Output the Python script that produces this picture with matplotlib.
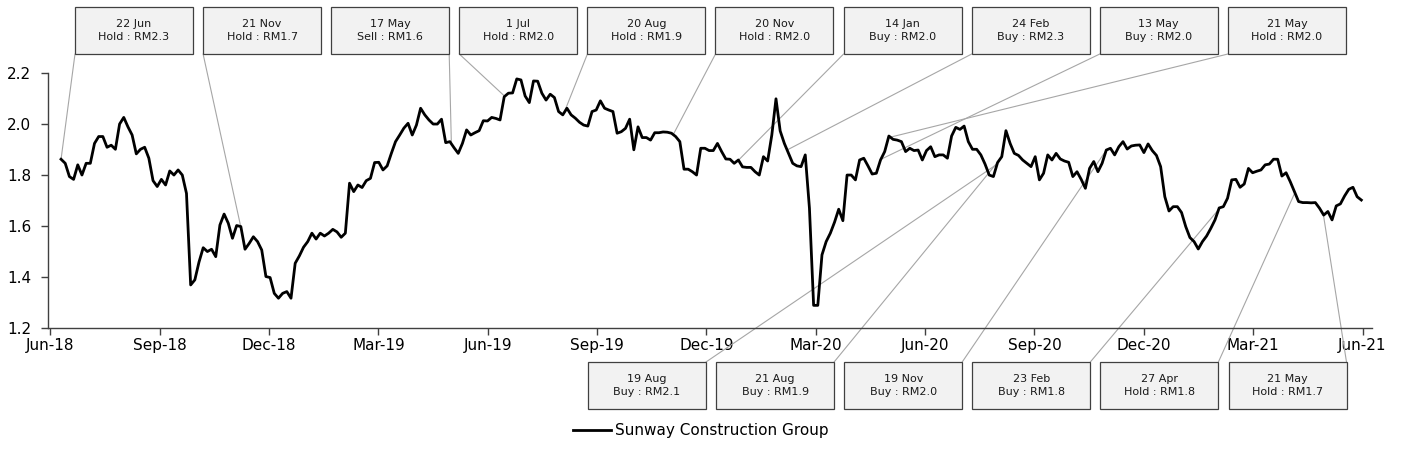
import numpy as np
import pandas as pd
import matplotlib
matplotlib.use("Agg")
import matplotlib.pyplot as plt
import matplotlib.dates as mdates
from matplotlib.patches import Rectangle

# ---------------- data ----------------
prices = [
    1.863, 1.847, 1.795, 1.784, 1.841, 1.801, 1.847, 1.847, 1.925, 1.952,
    1.952, 1.910, 1.918, 1.902, 2.001, 2.027, 1.990, 1.958, 1.884, 1.902,
    1.910, 1.867, 1.779, 1.756, 1.784, 1.762, 1.817, 1.801, 1.821, 1.801,
    1.729, 1.370, 1.390, 1.460, 1.516, 1.501, 1.510, 1.481, 1.605, 1.648,
    1.612, 1.553, 1.603, 1.599, 1.510, 1.533, 1.559, 1.540, 1.507, 1.403,
    1.399, 1.337, 1.318, 1.337, 1.344, 1.318, 1.455, 1.484, 1.518, 1.540,
    1.573, 1.550, 1.573, 1.562, 1.573, 1.588, 1.578, 1.557, 1.573, 1.769,
    1.736, 1.762, 1.752, 1.779, 1.788, 1.850, 1.851, 1.821, 1.837, 1.886,
    1.932, 1.958, 1.985, 2.004, 1.958, 1.997, 2.063, 2.037, 2.017, 2.001,
    2.001, 2.020, 1.928, 1.932, 1.908, 1.886, 1.925, 1.978, 1.958, 1.967,
    1.975, 2.014, 2.013, 2.027, 2.023, 2.017, 2.108, 2.122, 2.123, 2.178,
    2.174, 2.111, 2.085, 2.170, 2.169, 2.122, 2.095, 2.118, 2.105, 2.050,
    2.037, 2.063, 2.037, 2.024, 2.008, 1.997, 1.993, 2.050, 2.056, 2.092,
    2.063, 2.056, 2.050, 1.965, 1.971, 1.984, 2.020, 1.900, 1.990, 1.948,
    1.948, 1.938, 1.967, 1.967, 1.970, 1.969, 1.965, 1.952, 1.932, 1.824,
    1.824, 1.814, 1.801, 1.906, 1.906, 1.897, 1.897, 1.925, 1.893, 1.864,
    1.863, 1.847, 1.860, 1.833, 1.831, 1.831, 1.814, 1.801, 1.873, 1.856,
    1.958, 2.100, 1.974, 1.925, 1.886, 1.847, 1.837, 1.834, 1.880, 1.671,
    1.290, 1.290, 1.488, 1.540, 1.573, 1.616, 1.667, 1.622, 1.801, 1.801,
    1.782, 1.860, 1.867, 1.837, 1.805, 1.808, 1.860, 1.893, 1.954, 1.941,
    1.938, 1.932, 1.893, 1.906, 1.897, 1.899, 1.860, 1.897, 1.912, 1.873,
    1.880, 1.880, 1.867, 1.954, 1.988, 1.980, 1.993, 1.932, 1.902, 1.902,
    1.880, 1.844, 1.801, 1.795, 1.850, 1.873, 1.975, 1.925, 1.886, 1.878,
    1.860, 1.847, 1.834, 1.873, 1.782, 1.808, 1.880, 1.860, 1.886, 1.864,
    1.856, 1.851, 1.795, 1.814, 1.784, 1.749, 1.827, 1.854, 1.814, 1.847,
    1.899, 1.906, 1.880, 1.912, 1.932, 1.903, 1.915, 1.918, 1.919, 1.889,
    1.923, 1.897, 1.878, 1.834, 1.716, 1.660, 1.677, 1.677, 1.654, 1.599,
    1.556, 1.540, 1.511, 1.540, 1.562, 1.592, 1.625, 1.672, 1.677, 1.710,
    1.782, 1.784, 1.753, 1.766, 1.827, 1.810, 1.816, 1.821, 1.841, 1.844,
    1.863, 1.863, 1.797, 1.810, 1.775, 1.736, 1.697, 1.693, 1.693, 1.692,
    1.693, 1.671, 1.644, 1.658, 1.625, 1.680, 1.688, 1.719, 1.745, 1.753,
    1.716, 1.703,
]
start_date = "2018-06-22"
end_date = "2021-06-22"
series_name = "Sunway Construction Group"

tick_labels = ["Jun-18", "Sep-18", "Dec-18", "Mar-19", "Jun-19", "Sep-19", "Dec-19",
               "Mar-20", "Jun-20", "Sep-20", "Dec-20", "Mar-21", "Jun-21"]
y_ticks = [1.2, 1.4, 1.6, 1.8, 2.0, 2.2]

top_dates = ["2018-06-22", "2018-11-21", "2019-05-17", "2019-07-01", "2019-08-20",
             "2019-11-20", "2020-01-14", "2020-02-24", "2020-05-13", "2020-05-21"]
top_labels = ["22 Jun\nHold : RM2.3", "21 Nov\nHold : RM1.7", "17 May\nSell : RM1.6",
              "1 Jul\nHold : RM2.0", "20 Aug\nHold : RM1.9", "20 Nov\nHold : RM2.0",
              "14 Jan\nBuy : RM2.0", "24 Feb\nBuy : RM2.3", "13 May\nBuy : RM2.0",
              "21 May\nHold : RM2.0"]
bottom_dates = ["2020-08-19", "2020-08-21", "2020-11-19", "2021-02-23", "2021-04-27",
                "2021-05-21"]
bottom_labels = ["19 Aug\nBuy : RM2.1", "21 Aug\nBuy : RM1.9", "19 Nov\nBuy : RM2.0",
                 "23 Feb\nBuy : RM1.8", "27 Apr\nHold : RM1.8", "21 May\nHold : RM1.7"]

# ---------------- figure ----------------
W, H = 1402, 468
plt.rcParams['font.family'] = ['DejaVu Sans']
fig = plt.figure(figsize=(W / 100, H / 100), dpi=100)

def fx(px):
    return px / W

def fy(py):
    return 1 - py / H

ax = fig.add_axes([fx(48), fy(328.3), fx(1372) - fx(48), fy(73.3) - fy(328.3)])

dates = pd.date_range(start_date, end_date, periods=len(prices))
ax.plot(dates, prices, color="black", lw=2.0, zorder=3, label=series_name)

ax.set_ylim(1.2, 2.2)
ax.set_yticks(y_ticks)
ax.set_yticklabels([f"{v:.1f}" for v in y_ticks])
t0 = mdates.date2num(pd.Timestamp("2018-06-13"))
t1 = mdates.date2num(pd.Timestamp("2021-06-23"))
ax.set_xticks(np.linspace(t0, t1, len(tick_labels)))
ax.set_xticklabels(tick_labels)
ax.set_xlim(mdates.date2num(pd.Timestamp("2018-06-11")), mdates.date2num(pd.Timestamp("2021-07-01")))

for s in ["top", "right"]:
    ax.spines[s].set_visible(False)
for s in ["left", "bottom"]:
    ax.spines[s].set_color("#404040")
    ax.spines[s].set_linewidth(1.0)
ax.tick_params(axis="both", direction="out", length=5, width=1, color="#404040",
               labelsize=11, labelcolor="black")
ax.tick_params(axis="x", pad=2)
ax.tick_params(axis="y", pad=7)

dnum = mdates.date2num(dates)

def price_at(d):
    return float(np.interp(mdates.date2num(pd.Timestamp(d)), dnum, prices))

box_w, box_h = 118, 47
pitch = 128.1

def draw_box(left, top, text):
    rect = Rectangle((fx(left), fy(top + box_h)), fx(box_w), fy(top) - fy(top + box_h),
                     transform=fig.transFigure, facecolor="#f2f2f2",
                     edgecolor="#404040", lw=0.9, zorder=5)
    fig.patches.append(rect)
    fig.text(fx(left + box_w / 2), fy(top + box_h / 2), text, ha="center", va="center",
             fontsize=8, color="#1a1a1a", linespacing=1.3, zorder=6)

def leader(d, cx, cy):
    ax.annotate("", xy=(mdates.date2num(pd.Timestamp(d)), price_at(d)), xycoords="data",
                xytext=(fx(cx), fy(cy)), textcoords="figure fraction",
                arrowprops=dict(arrowstyle="-", color="#a6a6a6", lw=0.8,
                                shrinkA=0, shrinkB=0),
                annotation_clip=False, zorder=2)

# top callouts
for i, (d, lab) in enumerate(zip(top_dates, top_labels)):
    left = 75 + pitch * i
    draw_box(left, 7, lab)
    xp = ax.transData.transform((mdates.date2num(pd.Timestamp(d)), price_at(d)))[0]
    cx = left + box_w if xp > left + box_w else left
    leader(d, cx, 7 + box_h)

# bottom callouts
for i, (d, lab) in enumerate(zip(bottom_dates, bottom_labels)):
    left = 588 + pitch * i
    draw_box(left, 362, lab)
    leader(d, left + box_w, 362)

fig.legend(loc="center", bbox_to_anchor=(0.5, fy(431)), frameon=False, fontsize=11,
           handlelength=2.5, handletextpad=0.25)

fig.savefig("out.png", dpi=100)
